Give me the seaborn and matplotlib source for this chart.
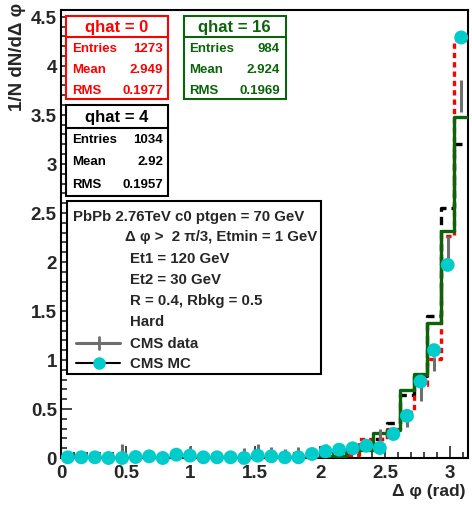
import numpy as np
import matplotlib
matplotlib.use("Agg")
import matplotlib.pyplot as plt
import seaborn as sns
from matplotlib.patches import Rectangle
from matplotlib.lines import Line2D
from matplotlib.ticker import MultipleLocator

# ---------------- data ----------------
bin_edges = list(np.linspace(0.0, np.pi, 31))
bin_centers = [0.5 * (a + b) for a, b in zip(bin_edges[:-1], bin_edges[1:])]

qhat0 = [0.0, 0.0, 0.0, 0.0, 0.0, 0.0, 0.0, 0.0, 0.0, 0.0,
         0.0, 0.0, 0.0, 0.0, 0.0, 0.0, 0.0, 0.0, 0.0, 0.0,
         0.01, 0.03, 0.19, 0.19, 0.30, 0.47, 0.74, 1.01, 2.26, 4.26]
qhat4 = [0.0, 0.0, 0.0, 0.0, 0.0, 0.0, 0.0, 0.0, 0.0, 0.0,
         0.0, 0.0, 0.0, 0.0, 0.0, 0.0, 0.0, 0.0, 0.0, 0.0,
         0.02, 0.07, 0.09, 0.19, 0.36, 0.64, 0.84, 1.45, 2.55, 3.20]
qhat16 = [0.0, 0.0, 0.0, 0.0, 0.0, 0.0, 0.0, 0.0, 0.0, 0.0,
          0.0, 0.0, 0.0, 0.0, 0.0, 0.0, 0.0, 0.0, 0.0, 0.0,
          0.025, 0.07, 0.085, 0.26, 0.29, 0.69, 0.86, 1.38, 2.32, 3.48]
cms_mc = [0.007, 0.007, 0.007, 0.0, 0.0, 0.01, 0.017, 0.0, 0.034, 0.024,
          0.007, 0.007, 0.007, 0.0, 0.024, 0.017, 0.007, 0.007, 0.041, 0.068,
          0.085, 0.099, 0.126, 0.102, 0.245, 0.43, 0.78, 1.10, 1.97, 4.29]
cms_data = [0.01, 0.01, 0.0, 0.0, 0.05, 0.0, 0.01, 0.0, 0.02, 0.05,
            0.01, 0.0, 0.01, 0.05, 0.07, 0.06, 0.05, 0.06, 0.02, 0.07,
            0.09, 0.10, 0.12, 0.23, 0.27, 0.37, 0.66, 0.96, 2.13, 3.69]
cms_data_err = [0.02, 0.02, 0.02, 0.02, 0.09, 0.02, 0.02, 0.02, 0.03, 0.07,
                0.02, 0.02, 0.02, 0.05, 0.07, 0.05, 0.04, 0.05, 0.03, 0.07,
                0.03, 0.03, 0.04, 0.07, 0.05, 0.05, 0.08, 0.07, 0.135, 0.165]

stat_boxes = [
    ("qhat = 0", "red", ["1273", "2.949", "0.1977"]),
    ("qhat = 16", "#0a640a", ["984", "2.924", "0.1969"]),
    ("qhat = 4", "black", ["1034", "2.92", "0.1957"]),
]
stat_names = ["Entries", "Mean", "RMS"]
legend_lines = ["PbPb 2.76TeV c0 ptgen = 70 GeV",
                "Δ φ >  2 π/3, Etmin = 1 GeV",
                "Et1 = 120 GeV",
                "Et2 = 30 GeV",
                "R = 0.4, Rbkg = 0.5",
                "Hard"]
legend_entries = ["CMS data", "CMS MC"]
xticks = [0, 0.5, 1, 1.5, 2, 2.5, 3]
xticklabels = ["0", "0.5", "1", "1.5", "2", "2.5", "3"]
yticks = [0, 0.5, 1, 1.5, 2, 2.5, 3, 3.5, 4, 4.5]
yticklabels = ["0", "0.5", "1", "1.5", "2", "2.5", "3", "3.5", "4", "4.5"]

# ---------------- style ----------------
sns.set_style("ticks")
plt.rcParams['font.family'] = ['Liberation Sans', 'DejaVu Sans']
plt.rcParams['font.weight'] = 'bold'

W, H = 472, 510
fig = plt.figure(figsize=(W / 100, H / 100), dpi=100)

def fx(x):
    return x / W

def fy(y):
    return 1 - y / H

L, R, T, B = 61, 468, 11, 459
ax = fig.add_axes([fx(L), fy(B), fx(R) - fx(L), fy(T) - fy(B)])

RED = "red"
GREEN = "#0a640a"
CYAN = "#00cccc"
GRAY = "#6e6e6e"

sns.histplot(x=bin_centers, weights=qhat4, bins=bin_edges, element="step",
             fill=False, color="black", linewidth=2.4, linestyle=(0, (2.5, 1.5)),
             ax=ax, zorder=2)
sns.histplot(x=bin_centers, weights=qhat16, bins=bin_edges, element="step",
             fill=False, color=GREEN, linewidth=2.4, ax=ax, zorder=3)
sns.histplot(x=bin_centers, weights=qhat0, bins=bin_edges, element="step",
             fill=False, color=RED, linewidth=2.4, linestyle=(0, (1.6, 1.2)),
             ax=ax, zorder=2.5)

ax.errorbar(bin_centers, cms_data, yerr=cms_data_err, fmt='none',
            ecolor=GRAY, elinewidth=2.2, capsize=0, zorder=4)
sns.scatterplot(x=bin_centers, y=cms_mc, color=CYAN, s=100, edgecolor='none',
                zorder=5, ax=ax, clip_on=False)

ax.set_xlim(0, np.pi)
ax.set_ylim(0, 4.57)
ax.set_xticks(xticks)
ax.set_xticklabels(xticklabels)
ax.set_yticks(yticks)
ax.set_yticklabels(yticklabels)
ax.xaxis.set_minor_locator(MultipleLocator(0.1))
ax.yaxis.set_minor_locator(MultipleLocator(0.1))
ax.tick_params(axis='x', which='major', direction='in', length=9, width=1.2,
               labelsize=13.5, pad=4)
ax.tick_params(axis='x', which='minor', direction='in', length=4.5, width=1.2)
ax.tick_params(axis='y', which='major', direction='in', length=8, width=1.2,
               labelsize=13.5, pad=3)
ax.tick_params(axis='y', which='minor', direction='in', length=4, width=1.2)
for lab in ax.get_xticklabels() + ax.get_yticklabels():
    lab.set_fontweight('bold')
for s in ax.spines.values():
    s.set_visible(True)
    s.set_linewidth(1.5)
    s.set_color('black')
ax.set_xlabel("")
ax.set_ylabel("")

fig.text(fx(466), fy(492), "Δ φ (rad)", ha='right', va='center',
         fontsize=12.5, fontweight='bold')
fig.text(fx(18), fy(3), "1/N dN/dΔ φ", rotation=90, ha='center', va='top',
         fontsize=13.5, fontweight='bold')

# ---------------- stat boxes ----------------
def stat_box(x0, x1, y0, ysep, y1, title, color, vals, rows_y, lab_x, val_x):
    fig.add_artist(Rectangle((fx(x0), fy(y1)), fx(x1) - fx(x0), fy(y0) - fy(y1),
                             transform=fig.transFigure, fill=True, facecolor='white',
                             edgecolor=color, linewidth=1.5, zorder=10))
    fig.add_artist(Line2D([fx(x0), fx(x1)], [fy(ysep), fy(ysep)],
                          transform=fig.transFigure, color=color, linewidth=1.5, zorder=11))
    fig.text(fx((x0 + x1) / 2), fy((y0 + ysep) / 2 + 0.5), title, ha='center', va='center',
             color=color, fontsize=12, fontweight='bold', zorder=12)
    for name, v, yy in zip(stat_names, vals, rows_y):
        fig.text(fx(lab_x), fy(yy), name, ha='left', va='center', color=color,
                 fontsize=9.5, fontweight='bold', zorder=12)
        fig.text(fx(val_x), fy(yy), v, ha='right', va='center', color=color,
                 fontsize=9.5, fontweight='bold', zorder=12)

t, c, v = stat_boxes[0]
stat_box(66, 168, 17, 37.5, 100, t, c, v, [48.5, 70.5, 91], 72, 163)
t, c, v = stat_boxes[1]
stat_box(184, 285.5, 17, 37.5, 100, t, c, v, [48.5, 70.5, 91], 189, 280)
t, c, v = stat_boxes[2]
stat_box(66, 168, 106, 128.5, 196.5, t, c, v, [140, 162.5, 184.5], 72, 163)

# ---------------- legend box ----------------
fig.add_artist(Rectangle((fx(66.5), fy(375)), fx(321) - fx(66.5), fy(202) - fy(375),
                         transform=fig.transFigure, facecolor='white',
                         edgecolor='black', linewidth=1.5, zorder=10))
leg_pos = [(73, 216.5), (125, 237.5), (130, 259), (130, 280), (130, 301), (130, 322)]
for txt, (x, y) in zip(legend_lines, leg_pos):
    fig.text(fx(x), fy(y), txt, ha='left', va='center', fontsize=10.8,
             fontweight='bold', zorder=12)
for txt, y in zip(legend_entries, [343.5, 364]):
    fig.text(fx(130), fy(y), txt, ha='left', va='center', fontsize=10.8,
             fontweight='bold', zorder=12)
fig.add_artist(Line2D([fx(76), fx(120)], [fy(343.5), fy(343.5)], transform=fig.transFigure,
                      color=GRAY, linewidth=2.2, zorder=11))
fig.add_artist(Line2D([fx(98.5), fx(98.5)], [fy(337.5), fy(349.5)], transform=fig.transFigure,
                      color=GRAY, linewidth=2.0, zorder=11))
fig.add_artist(Line2D([fx(76), fx(120)], [fy(364), fy(364)], transform=fig.transFigure,
                      color='black', linewidth=1.5, zorder=11))
fig.add_artist(Line2D([fx(98.5)], [fy(364)], transform=fig.transFigure, marker='o',
                      markersize=9, markerfacecolor=CYAN, markeredgecolor='none',
                      linestyle='none', zorder=12))

fig.savefig("out.png", dpi=100)
